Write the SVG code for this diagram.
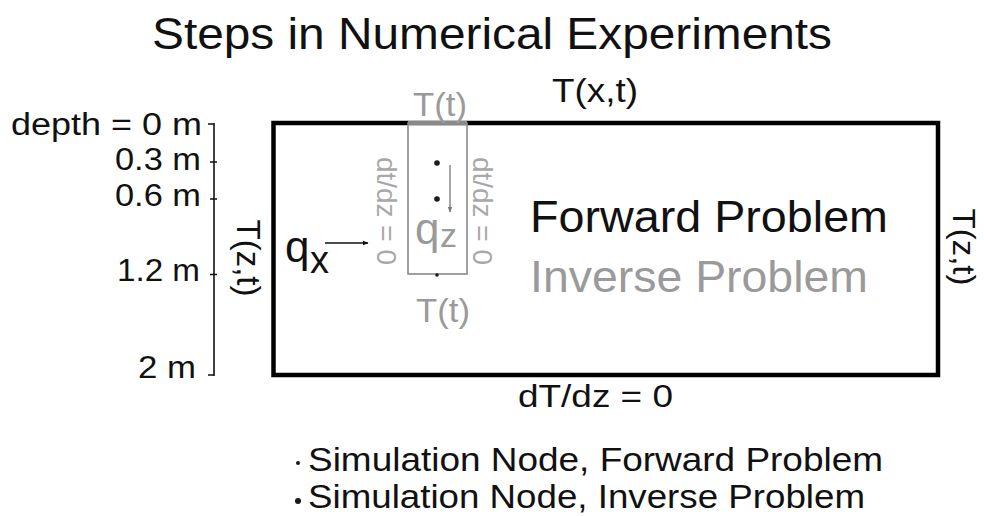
<svg xmlns="http://www.w3.org/2000/svg" width="984" height="516" viewBox="0 0 984 516">
<style>
text{font-family:"Liberation Sans",Arial,Helvetica,sans-serif;fill:#111}
.g{fill:#9a9a9a}
.lg{fill:#a8a8a8}
.axis{stroke:#111;stroke-width:1.6;fill:none}
.dot{fill:#1a1a1a}
</style>
<defs>
<marker id="ahk" viewBox="0 0 10 10" refX="9" refY="5" markerWidth="6" markerHeight="6" markerUnits="userSpaceOnUse" orient="auto"><path d="M0,1 L10,5 L0,9 z" fill="#111"/></marker>
<marker id="ahg" viewBox="0 0 10 10" refX="9" refY="5" markerWidth="6" markerHeight="6" markerUnits="userSpaceOnUse" orient="auto"><path d="M0,1 L10,5 L0,9 z" fill="#777"/></marker>
</defs>
<rect width="984" height="516" fill="#fff"/>
<g id="title"><text x="152" y="49" font-size="45" textLength="680" lengthAdjust="spacingAndGlyphs">Steps in Numerical Experiments</text></g>
<g id="depth-scale">
<line class="axis" x1="214" y1="123" x2="214" y2="376"/>
<path class="axis" d="M208,124H214M210,162H217M210,199H217M210,274.5H217M208,375H214"/>
<text x="11" y="135" font-size="31" textLength="191" lengthAdjust="spacingAndGlyphs">depth = 0 m</text>
<text x="115" y="170" font-size="31" textLength="86" lengthAdjust="spacingAndGlyphs">0.3 m</text>
<text x="115" y="206" font-size="31" textLength="86" lengthAdjust="spacingAndGlyphs">0.6 m</text>
<text x="117" y="281" font-size="31" textLength="83" lengthAdjust="spacingAndGlyphs">1.2 m</text>
<text x="138" y="378" font-size="31" textLength="58" lengthAdjust="spacingAndGlyphs">2 m</text>
</g>
<g id="domain">
<rect x="273.5" y="123" width="664.5" height="252" fill="none" stroke="#000" stroke-width="4.5"/>
<text x="552" y="102" font-size="34" textLength="86" lengthAdjust="spacingAndGlyphs">T(x,t)</text>
<text x="518" y="407" font-size="31" textLength="155" lengthAdjust="spacingAndGlyphs">dT/dz = 0</text>
<text transform="translate(237,258) rotate(90)" text-anchor="middle" font-size="34" textLength="77" lengthAdjust="spacingAndGlyphs">T(z,t)</text>
<text transform="translate(953,247) rotate(90)" text-anchor="middle" font-size="32" textLength="77" lengthAdjust="spacingAndGlyphs">T(z,t)</text>
<text x="530" y="232" font-size="45" textLength="358" lengthAdjust="spacingAndGlyphs">Forward Problem</text>
<text class="g" x="530" y="292" font-size="45" textLength="338" lengthAdjust="spacingAndGlyphs">Inverse Problem</text>
</g>
<g id="inverse-column">
<line x1="408" y1="123" x2="467" y2="123" stroke="#8a8a8a" stroke-width="4"/>
<rect x="408" y="123" width="59" height="151" fill="none" stroke="#8a8a8a" stroke-width="1.6"/>
<text class="g" x="413" y="116" font-size="34" textLength="54" lengthAdjust="spacingAndGlyphs">T(t)</text>
<text class="g" x="416" y="322" font-size="34" textLength="54" lengthAdjust="spacingAndGlyphs">T(t)</text>
<text class="lg" transform="translate(377,211) rotate(90)" text-anchor="middle" font-size="28" textLength="108" lengthAdjust="spacingAndGlyphs">dt/dz = 0</text>
<text class="lg" transform="translate(473,211) rotate(90)" text-anchor="middle" font-size="28" textLength="108" lengthAdjust="spacingAndGlyphs">dt/dz = 0</text>
<text class="g" x="415" y="244" font-size="44">q</text>
<text class="g" x="440" y="247" font-size="34">z</text>
<circle class="dot" cx="437" cy="163" r="2.8"/>
<circle class="dot" cx="437" cy="199" r="2.8"/>
<circle class="dot" cx="437" cy="275" r="1.8"/>
</g>
<g id="qx-label">
<text x="285" y="262" font-size="44">q</text>
<text x="310" y="273" font-size="38">x</text>
</g>
<g id="connectors">
<line x1="325" y1="243" x2="368" y2="243" stroke="#111" stroke-width="1.3" marker-end="url(#ahk)"/>
<line x1="450" y1="165" x2="450" y2="212" stroke="#777" stroke-width="1.3" marker-end="url(#ahg)"/>
</g>
<g id="legend">
<circle class="dot" cx="298" cy="463" r="2"/>
<text x="308" y="471" font-size="33" textLength="575" lengthAdjust="spacingAndGlyphs">Simulation Node, Forward Problem</text>
<circle class="dot" cx="298" cy="501" r="3"/>
<text x="308" y="508" font-size="33" textLength="557" lengthAdjust="spacingAndGlyphs">Simulation Node, Inverse Problem</text>
</g>
</svg>
